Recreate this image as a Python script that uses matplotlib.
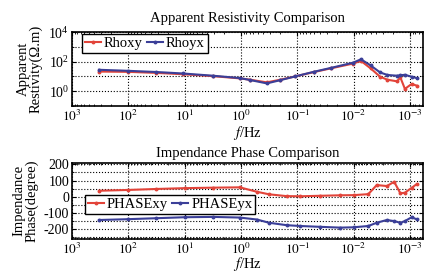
import numpy as np
import matplotlib
matplotlib.use("Agg")
import matplotlib.pyplot as plt
from matplotlib.ticker import FixedLocator, NullFormatter, MultipleLocator

# valores (frecuencia en log10 Hz)
rho_logf = [2.52, 2.0, 1.5, 1.03, 0.5, 0.02, -0.16, -0.46, -0.7, -0.96, -1.3,
            -1.6, -1.99, -2.13, -2.3, -2.47, -2.6, -2.77, -2.83, -2.91, -3.03, -3.12]
rhoxy_log = [1.33, 1.31, 1.24, 1.15, 1.02, 0.87, 0.78, 0.6, 0.78, 1.0, 1.3,
             1.55, 1.87, 2.05, 1.55, 0.98, 0.78, 0.67, 0.93, 0.16, 0.49, 0.38]
rhoyx_log = [1.45, 1.38, 1.3, 1.2, 1.05, 0.89, 0.76, 0.53, 0.75, 1.0, 1.32,
             1.58, 1.93, 2.16, 1.75, 1.27, 1.1, 1.05, 1.08, 1.11, 0.98, 0.89]

phase_logf = [2.52, 2.0, 1.5, 1.0, 0.5, 0.02, -0.28, -0.5, -0.81, -1.05, -1.4,
              -1.76, -2.0, -2.26, -2.41, -2.59, -2.72, -2.83, -2.91, -3.03, -3.12]
phasexy = [37, 42, 48, 53, 56, 58, 31, 15, 4, 3, 6, 9, 10, 16, 72, 66, 92, 21, 25, 55, 78]
phaseyx = [-143, -138, -132, -126, -124, -128, -140, -160, -175, -180, -185,
           -190, -188, -180, -160, -143, -150, -160, -150, -126, -139]

x_decades = [3, 2, 1, 0, -1, -2, -3]

plt.rcParams['font.family'] = ['Liberation Serif', 'DejaVu Serif']
plt.rcParams['mathtext.fontset'] = 'stix'
plt.rcParams['axes.unicode_minus'] = False
plt.rcParams['font.size'] = 10

red = '#e2443a'
blue = '#3b3f98'

fig = plt.figure(figsize=(4.36, 2.79), dpi=100)
ax1 = fig.add_axes([0.165, 0.620, 0.805, 0.265])
ax2 = fig.add_axes([0.165, 0.1434, 0.805, 0.2736])

f_rho = np.power(10.0, rho_logf)
f_ph = np.power(10.0, phase_logf)
xmin, xmax = 1e3, 10 ** -3.23

leg_kw = dict(ncol=2, fontsize=10.5, handlelength=1.1, handletextpad=0.2,
              columnspacing=0.3, borderpad=0.2, fancybox=False, edgecolor='k',
              framealpha=1, borderaxespad=0)

ax1.plot(f_rho, np.power(10.0, rhoxy_log), '-o', color=red, lw=1.5, ms=1.8, label='Rhoxy')
ax1.plot(f_rho, np.power(10.0, rhoyx_log), '-o', color=blue, lw=1.5, ms=1.8, label='Rhoyx')
ax1.set_xscale('log')
ax1.set_yscale('log')
ax1.set_ylim(0.1, 1e4)
ax1.yaxis.set_major_locator(FixedLocator([1, 100, 1e4]))
ax1.yaxis.set_minor_locator(FixedLocator([0.1, 10, 1000]))
ax1.yaxis.set_minor_formatter(NullFormatter())
ax1.grid(True, which='both', axis='y', ls=':', color='k', lw=0.8)
ax1.set_title('Apparent Resistivity Comparison', fontsize=10.5, pad=7)
ax1.set_ylabel('Apparent\nRestivity(Ω.m)', fontsize=10.5, linespacing=0.95)
ax1.set_xlabel('$f$/Hz', fontsize=10.5, labelpad=0)
ax1.legend(loc='upper left', bbox_to_anchor=(0.028, 0.975), **leg_kw)

ax2.plot(f_ph, phasexy, '-o', color=red, lw=1.5, ms=1.8, label='PHASExy')
ax2.plot(f_ph, phaseyx, '-o', color=blue, lw=1.5, ms=1.8, label='PHASEyx')
ax2.set_xscale('log')
ax2.set_ylim(-260, 210)
ax2.yaxis.set_major_locator(MultipleLocator(100))
ax2.yaxis.set_minor_locator(MultipleLocator(50))
ax2.grid(True, which='both', axis='y', ls=':', color='k', lw=0.8)
ax2.set_title('Impendance Phase Comparison', fontsize=10.5, pad=4)
ax2.set_ylabel('Impendance\nPhase(degree)', fontsize=10.5, linespacing=0.95)
ax2.set_xlabel('$f$/Hz', fontsize=10.5, labelpad=-1)
ax2.legend(loc='lower left', bbox_to_anchor=(0.037, 0.33), **leg_kw)

minor_x = [m * 10.0 ** d for d in range(-4, 3) for m in range(2, 10)]
minor_x = [v for v in minor_x if xmax < v < xmin]
for ax in (ax1, ax2):
    ax.set_xlim(xmin, xmax)
    ax.set_xticks([10.0 ** d for d in x_decades])
    ax.set_xticklabels(['$10^{%d}$' % d for d in x_decades])
    ax.xaxis.set_minor_locator(FixedLocator(minor_x))
    ax.xaxis.set_minor_formatter(NullFormatter())
    ax.grid(True, which='major', axis='x', ls=':', color='k', lw=0.8)
    ax.tick_params(which='both', direction='in', top=True, right=True)
    ax.tick_params(which='major', length=3, labelsize=10, pad=2)
    ax.tick_params(axis='x', which='major', labelsize=9.5)
    ax.tick_params(which='minor', length=1.5)
    for s in ax.spines.values():
        s.set_linewidth(1.2)

fig.savefig('out.png', dpi=100)
